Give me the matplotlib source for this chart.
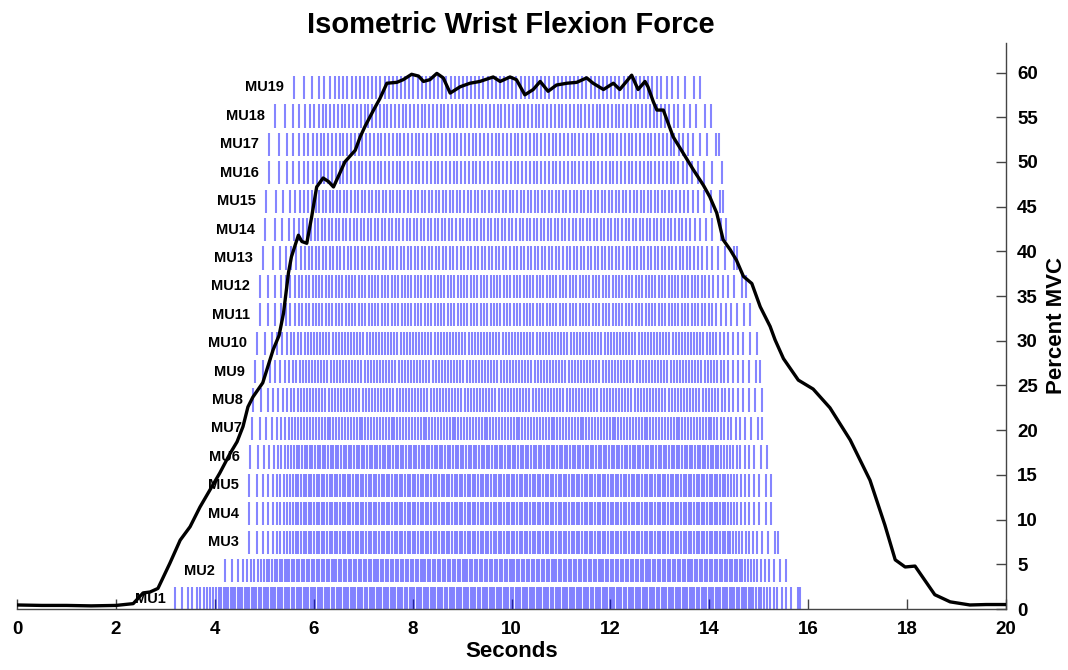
import numpy as np
import matplotlib
matplotlib.use("Agg")
import matplotlib.pyplot as plt

plt.rcParams["font.family"] = ["Liberation Sans", "DejaVu Sans"]

# ---------------- data ----------------
mu_labels = ["MU1", "MU2", "MU3", "MU4", "MU5", "MU6", "MU7", "MU8", "MU9", "MU10",
             "MU11", "MU12", "MU13", "MU14", "MU15", "MU16", "MU17", "MU18", "MU19"]
# recruitment (first spike) and de-recruitment (last spike) times, seconds
mu_first_spike = [3.20, 4.21, 4.69, 4.69, 4.69, 4.71, 4.75, 4.77, 4.81, 4.85,
                  4.91, 4.91, 4.97, 5.02, 5.04, 5.10, 5.10, 5.22, 5.60]
mu_last_spike = [15.83, 15.55, 15.39, 15.25, 15.25, 15.17, 15.07, 15.07, 15.02, 14.96,
                 14.82, 14.74, 14.56, 14.34, 14.27, 14.25, 14.20, 14.03, 13.81]
# firing rate (Hz) near recruitment / de-recruitment and on the plateau
mu_edge_rate = [6, 6, 5, 5, 5, 5, 5, 5, 5, 5, 5, 5, 4, 4, 4, 4, 4, 4, 4]
mu_plateau_rate = [21, 20, 19, 19, 19, 19, 17, 16, 16, 16, 15, 15, 14, 14, 14, 13, 13, 13, 12]

force_time = [0.0, 0.5, 1.0, 1.5, 2.0, 2.35, 2.55, 2.69, 2.85, 3.09,
              3.30, 3.50, 3.70, 3.90, 4.10, 4.31, 4.45, 4.57, 4.67, 4.77,
              4.97, 5.18, 5.30, 5.39, 5.49, 5.55, 5.69, 5.76, 5.86, 5.96,
              6.06, 6.19, 6.30, 6.40, 6.50, 6.63, 6.84, 6.94, 7.04, 7.21,
              7.34, 7.48, 7.68, 7.81, 7.98, 8.12, 8.22, 8.35, 8.49, 8.62,
              8.76, 8.96, 9.16, 9.36, 9.63, 9.77, 9.97, 10.10, 10.27, 10.44,
              10.58, 10.74, 10.91, 11.12, 11.32, 11.52, 11.65, 11.86, 12.06, 12.19,
              12.43, 12.56, 12.70, 12.76, 12.87, 12.94, 13.07, 13.27, 13.47, 13.68,
              13.88, 14.01, 14.15, 14.28, 14.42, 14.55, 14.69, 14.86, 15.03, 15.23,
              15.33, 15.50, 15.80, 16.10, 16.44, 16.85, 17.25, 17.55, 17.76, 17.96,
              18.16, 18.36, 18.56, 18.87, 19.27, 19.60, 20.0]
force_pct = [0.45, 0.40, 0.40, 0.35, 0.40, 0.60, 1.8, 1.9, 2.3, 5.1,
             7.7, 9.2, 11.4, 13.3, 15.2, 17.4, 18.7, 20.4, 22.6, 23.7,
             25.3, 29.0, 30.6, 33.1, 37.6, 39.4, 41.8, 41.1, 40.9, 43.9,
             47.2, 48.2, 47.8, 47.2, 48.4, 50.0, 51.3, 52.8, 54.0, 55.8,
             57.1, 58.8, 58.9, 59.2, 59.8, 59.6, 59.0, 59.2, 59.9, 59.4,
             57.7, 58.4, 58.8, 59.0, 59.5, 59.0, 59.5, 59.2, 57.5, 58.1,
             59.0, 57.9, 58.6, 58.8, 58.9, 59.4, 58.8, 58.1, 58.8, 58.1,
             59.7, 58.1, 59.0, 58.4, 56.7, 55.8, 55.8, 52.8, 51.0, 49.1,
             47.4, 46.1, 44.3, 41.3, 40.2, 39.0, 37.2, 36.4, 33.8, 31.6,
             30.1, 28.0, 25.6, 24.6, 22.5, 18.9, 14.4, 9.4, 5.5, 4.7,
             4.8, 3.2, 1.6, 0.8, 0.45, 0.5, 0.5]

x_ticks = [0, 2, 4, 6, 8, 10, 12, 14, 16, 18, 20]
y_ticks = [0, 5, 10, 15, 20, 25, 30, 35, 40, 45, 50, 55, 60]

# ---------------- spike trains from the rate profiles ----------------
RAMP = 1.0  # seconds for rate to rise / fall between edge and plateau rate


def spike_train(t0, t1, r_edge, r_plat):
    dt = 0.0005
    t = np.arange(t0, t1 + dt / 2, dt)
    w = np.minimum(np.clip((t - t0) / RAMP, 0, 1), np.clip((t1 - t) / RAMP, 0, 1))
    rate = r_edge + (r_plat - r_edge) * w
    phase = np.cumsum(rate) * dt
    idx = np.nonzero(np.diff(np.floor(phase)) > 0)[0] + 1
    return np.concatenate([[t0], t[idx], [t1]])


trains = [spike_train(a, b, r0, r1) for a, b, r0, r1 in
          zip(mu_first_spike, mu_last_spike, mu_edge_rate, mu_plateau_rate)]

# ---------------- figure ----------------
W, H = 1068, 670
fig = plt.figure(figsize=(W / 100, H / 100), dpi=100)
ax = fig.add_axes([17 / W, 61 / H, (1006 - 17) / W, (609 - 43) / H])
ax.set_xlim(0, 20)
ax.set_ylim(0, 63.3)

row0, row_step, row_len = 1.12, 3.178, 2.6
centers = [row0 + i * row_step for i in range(len(mu_labels))]

ax.eventplot(trains, lineoffsets=centers, linelengths=row_len,
             colors=[(0.0, 0.0, 1.0, 0.48)], linewidths=1.5, zorder=2)

for lab, t0, c in zip(mu_labels, mu_first_spike, centers):
    ax.text(t0 - 0.2, c, lab, ha="right", va="center", fontsize=10.5,
            fontweight="bold", zorder=3)

ax.plot(force_time, force_pct, color="black", lw=2.4, zorder=5,
        solid_joinstyle="round")

for s in ("left", "top"):
    ax.spines[s].set_visible(False)
for s in ("right", "bottom"):
    ax.spines[s].set_color("#444444")
    ax.spines[s].set_linewidth(1.0)

ax.yaxis.tick_right()
ax.yaxis.set_label_position("right")
ax.set_xticks(x_ticks)
ax.set_yticks(y_ticks)
ax.tick_params(axis="both", direction="in", length=7, width=1, color="#444444",
               labelsize=13.5)
ax.tick_params(axis="x", pad=9)
ax.tick_params(axis="y", pad=8)
for lbl in ax.get_xticklabels() + ax.get_yticklabels():
    lbl.set_fontweight("bold")

ax.set_xlabel("Seconds", fontsize=16, fontweight="bold", labelpad=2)
ax.set_ylabel("Percent MVC", fontsize=16, fontweight="bold", labelpad=6)

fig.text(511 / W, 1 - 25 / H, "Isometric Wrist Flexion Force", ha="center",
         va="center", fontsize=21, fontweight="bold")

fig.savefig("out.png", dpi=100)
